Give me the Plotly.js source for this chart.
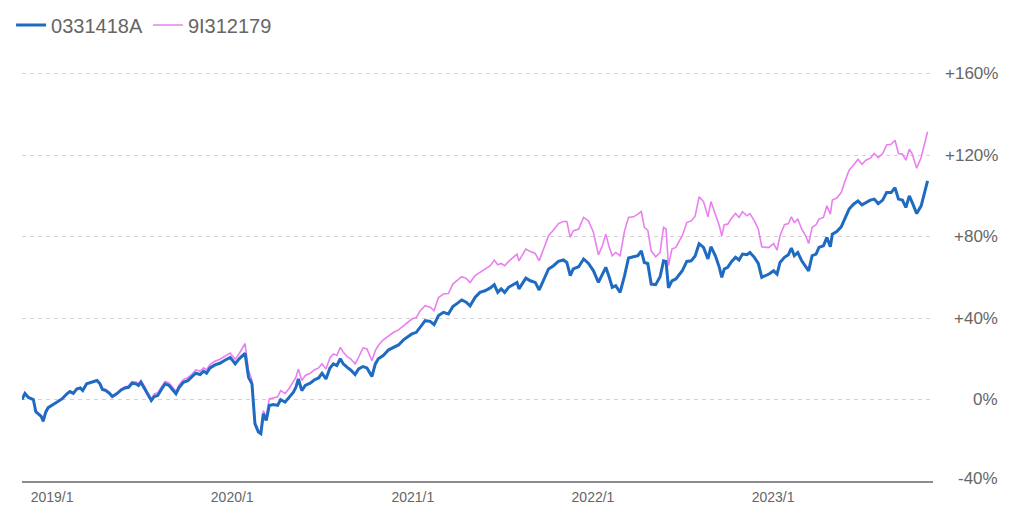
<!DOCTYPE html>
<html>
<head>
<meta charset="utf-8">
<script src="https://cdn.plot.ly/plotly-3.0.1.min.js"></script>
<style>
  html, body { margin: 0; padding: 0; background: #ffffff; }
  #chart { width: 1024px; height: 517px; }
</style>
</head>
<body>
<div id="chart"></div>
<script>
// Series names
const seriesNames = ["0331418A", "9I312179"];

// Dates (observation points)
const dates = [
"2018-11-01","2018-11-07","2018-11-14","2018-11-19","2018-11-24","2018-11-29","2018-12-06","2018-12-10","2018-12-14","2018-12-19",
"2018-12-24","2018-12-31","2019-01-11","2019-01-21","2019-01-31","2019-02-06","2019-02-13","2019-02-20","2019-02-27","2019-03-04",
"2019-03-12","2019-03-22","2019-04-02","2019-04-08","2019-04-13","2019-04-20","2019-04-27","2019-05-03","2019-05-12","2019-05-21",
"2019-05-29","2019-06-05","2019-06-12","2019-06-20","2019-06-25","2019-06-30","2019-07-07","2019-07-15","2019-07-21","2019-07-27",
"2019-08-03","2019-08-11","2019-08-18","2019-08-26","2019-09-02","2019-09-09","2019-09-15","2019-09-24","2019-10-03","2019-10-11",
"2019-10-19","2019-10-28","2019-11-04","2019-11-10","2019-11-17","2019-11-27","2019-12-07","2019-12-18","2019-12-28","2020-01-07",
"2020-01-15","2020-01-27","2020-02-03","2020-02-10","2020-02-16","2020-02-23","2020-02-28","2020-03-04","2020-03-10","2020-03-16",
"2020-03-24","2020-04-02","2020-04-08","2020-04-17","2020-04-26","2020-05-04","2020-05-09","2020-05-14","2020-05-21","2020-05-28",
"2020-06-07","2020-06-15","2020-06-24","2020-07-01","2020-07-09","2020-07-17","2020-07-24","2020-07-31","2020-08-07","2020-08-13",
"2020-08-21","2020-08-28","2020-09-06","2020-09-13","2020-09-22","2020-09-30","2020-10-10","2020-10-17","2020-10-23","2020-11-02",
"2020-11-13","2020-11-23","2020-12-03","2020-12-13","2020-12-23","2020-12-30","2021-01-08","2021-01-16","2021-01-26","2021-02-05",
"2021-02-13","2021-02-22","2021-03-04","2021-03-14","2021-03-23","2021-04-01","2021-04-10","2021-04-19","2021-04-27","2021-05-07",
"2021-05-17","2021-05-27","2021-06-07","2021-06-15","2021-06-22","2021-06-29","2021-07-06","2021-07-14","2021-07-24","2021-07-31",
"2021-08-04","2021-08-11","2021-08-18","2021-08-27","2021-09-06","2021-09-14","2021-09-23","2021-10-03","2021-10-13","2021-10-23",
"2021-11-02","2021-11-09","2021-11-16","2021-11-22","2021-12-03","2021-12-13","2021-12-23","2022-01-02","2022-01-12","2022-01-20",
"2022-01-27","2022-02-03","2022-02-09","2022-02-16","2022-02-25","2022-03-06","2022-03-14","2022-03-24","2022-04-02","2022-04-09",
"2022-04-15","2022-04-22","2022-04-29","2022-05-08","2022-05-17","2022-05-24","2022-05-29","2022-06-03","2022-06-10","2022-06-18",
"2022-06-25","2022-07-01","2022-07-10","2022-07-19","2022-07-27","2022-08-04","2022-08-13","2022-08-22","2022-08-28","2022-09-06",
"2022-09-14","2022-09-19","2022-09-24","2022-10-01","2022-10-09","2022-10-17","2022-10-24","2022-10-31","2022-11-09","2022-11-15",
"2022-11-24","2022-12-02","2022-12-09","2022-12-17","2022-12-24","2023-01-02","2023-01-09","2023-01-15","2023-01-24","2023-02-01",
"2023-02-07","2023-02-13","2023-02-20","2023-02-28","2023-03-08","2023-03-14","2023-03-21","2023-03-29","2023-04-04","2023-04-13",
"2023-04-20","2023-04-27","2023-05-01","2023-05-10","2023-05-19","2023-05-27","2023-06-04","2023-06-13","2023-06-22","2023-06-30",
"2023-07-08","2023-07-17","2023-07-25","2023-08-02","2023-08-11","2023-08-19","2023-08-28","2023-09-05","2023-09-12","2023-09-20",
"2023-09-27","2023-10-04","2023-10-10","2023-10-19","2023-10-28","2023-11-10"
];

// Cumulative return (%) of 0331418A
const blueValues = [
0,3,1,0.5,0,-6,-7.4,-8.3,-10.6,-6.2,
-4,-3,-1.3,0.3,2.8,3.9,3,5.2,5.7,4.4,
7.7,8.5,9.3,7.7,4.9,4.4,3.1,1.5,2.8,4.7,
5.7,6,8,7.7,6.9,8.5,5.7,2,-0.5,1.5,
2,5.2,7.7,6.9,4.7,2.8,5.7,8.5,9.3,10.9,
12.9,12.3,13.9,12.9,15.5,17,17.8,19.4,20.7,17.5,
20,22.7,10.9,7.7,-11.9,-16,-16.8,-7,-10.3,-2.9,
-2.5,-2.9,0,-1.3,1.1,3.6,6,10.1,4.4,6.9,
8,9.6,10.6,12.9,10.1,15.5,17.5,16.7,20,17.5,
15.8,14.5,12.3,15,16.2,15.5,11.3,17.5,20,21.6,
24.4,25.6,26.8,29.3,30.9,32.2,33,35.8,38.7,38.4,
36.8,41.2,42.8,42,45.6,47.2,48.9,47.8,46,50.1,
52.6,53.4,54.8,56.4,52.6,54.3,52.6,55.1,56.7,57.5,
54.3,56.7,59.6,58.3,57.5,53.8,58.7,64.1,65.7,67.8,
68.5,67.3,60.8,64.1,65.2,69,66.8,63.2,57.5,61.6,
64.9,60,55.1,55.9,52.6,60.8,69.5,70.1,70.6,73,
67.3,66.8,56.7,56.4,60.3,68.1,67.8,54.8,58.3,59.2,
61.3,63.2,67.8,68.1,70.5,76.5,74.7,69,75,70.6,
64.9,60,64.1,64.9,67.8,69.8,68.5,71.4,71.1,72.2,
69.8,66.8,60,60.8,61.6,63.2,61.6,67.3,69.8,71.1,
74.4,70.6,72.2,68.1,65.2,63.2,70.6,71.4,74.7,75.5,
79.6,75,81.2,82.5,84.8,89.4,93.5,95.9,97.5,95.6,
96.7,97.9,98.4,96.2,97.9,101.6,101.6,104,98.4,97.9,
94.3,100,96.7,91.3,95.1,107.4
];

// Cumulative return (%) of 9I312179
const pinkValues = [
0,3,1,0.5,0,-6.3,-8,-8.8,-11,-6.4,
-4,-3,-1.2,0.4,2.9,4.1,3.2,5.4,5.9,4.6,
7.9,8.8,9.6,8.1,5.4,4.9,3.5,1.9,3.2,5.2,
6.3,6.6,8.8,8.6,7.8,9.4,6.6,3,0.3,2.8,
3.3,6.4,8.9,8.1,5.9,4,7,9.8,10.7,12.3,
14.5,14,15.6,14.6,17.2,18.8,19.8,21.5,22.8,19.8,
22.5,27.5,14.2,9.5,-11,-15,-16.4,-5.4,-8.5,0.3,
0.8,1.3,4.4,3,5.7,8.5,10.9,15,9.3,11.8,
12.9,14.5,15.5,17.5,15,20.4,22.4,21.6,25.6,23.2,
21.1,20,17.5,20.7,25.3,24.8,19.1,24,26.5,29.3,
31.4,33,34.2,36.3,38.4,39.5,40.3,43.6,46.1,45.3,
43.6,50.1,51.8,52,56.7,58.3,60.3,59.5,57.5,60.8,
62.4,63.6,65.7,68.5,66.2,66.8,65.7,67.8,70.1,71.4,
68.1,71.1,73.9,72.7,71.7,68.1,73.9,80.4,83.2,86.4,
87.4,87.4,79.6,82.8,83.7,89.4,87.7,82,71,75.5,
81.2,74.7,70.6,72.2,70.6,82.8,89.4,89.7,91,92.3,
84.5,83.2,73,70.1,72.2,84.5,83.7,65.7,73.9,74.7,
77.9,80.4,86.9,87.7,90,99.5,97.2,89.7,97.2,91,
85.3,80.4,85.8,86.1,89.1,91.3,89.4,92.2,90.2,91.3,
87.7,83.7,75,74.7,74.7,76.6,73.4,80.4,85.8,86.4,
89.7,86.9,88.6,83.7,80.4,76.6,84.5,85.8,88.6,89.4,
95.1,91,97.9,98.9,101.6,107.4,112.6,115.2,118,115.5,
117.5,118.5,120.8,118.8,120.8,125,125.3,127.3,120.8,120.5,
117.5,122.9,120.5,113.6,118.8,131.5
];

// Axis ticks
const yTickValues = [-40, 0, 40, 80, 120, 160];
const yTickLabels = ["-40%", "0%", "+40%", "+80%", "+120%", "+160%"];
const xTickFormat = "%Y/%-m";

const FONT = "'Liberation Sans', Arial, Helvetica, sans-serif";
const TEXT_COLOR = "#666666";

const traces = [
  {
    type: "scatter", mode: "lines", name: seriesNames[1],
    x: dates, y: pinkValues,
    line: { color: "#ea7ff0", width: 1.6 },
    hoverinfo: "skip"
  },
  {
    type: "scatter", mode: "lines", name: seriesNames[0],
    x: dates, y: blueValues,
    line: { color: "#1f6bc2", width: 3 },
    hoverinfo: "skip"
  }
];

const annotations = yTickValues.map((v, i) => ({
  xref: "paper", yref: "y", x: 1.0736, y: v,
  xanchor: "right", yanchor: "middle",
  yshift: v === yTickValues[0] ? 3 : 0,
  text: yTickLabels[i], showarrow: false,
  font: { family: FONT, size: 17, color: TEXT_COLOR }
}));

const layout = {
  width: 1024, height: 517,
  margin: { l: 22, r: 91, t: 5, b: 36, autoexpand: false },
  paper_bgcolor: "#ffffff", plot_bgcolor: "#ffffff",
  showlegend: true,
  legend: {
    orientation: "h", traceorder: "reversed",
    x: -0.012, xanchor: "left", y: 0.958, yanchor: "middle",
    font: { family: FONT, size: 20, color: TEXT_COLOR },
    bgcolor: "rgba(0,0,0,0)"
  },
  xaxis: {
    type: "date",
    range: ["2018-11-01", "2023-11-21"],
    tick0: "2019-01-01", dtick: "M12", tickformat: xTickFormat,
    showgrid: false, zeroline: false,
    showline: true, linecolor: "#8c8c8c", linewidth: 1.5,
    ticks: "outside", ticklen: 3, tickcolor: "rgba(0,0,0,0)",
    tickfont: { family: FONT, size: 14, color: TEXT_COLOR },
    fixedrange: true
  },
  yaxis: {
    range: [-40, 193.7],
    tickvals: yTickValues,
    showticklabels: false,
    showgrid: true, gridcolor: "#d3d3d3", gridwidth: 1, griddash: "4px,4px",
    zeroline: false, showline: false, ticks: "",
    fixedrange: true
  },
  annotations: annotations,
  font: { family: FONT, color: TEXT_COLOR }
};

Plotly.newPlot("chart", traces, layout, { displayModeBar: false, staticPlot: true });
</script>
</body>
</html>
